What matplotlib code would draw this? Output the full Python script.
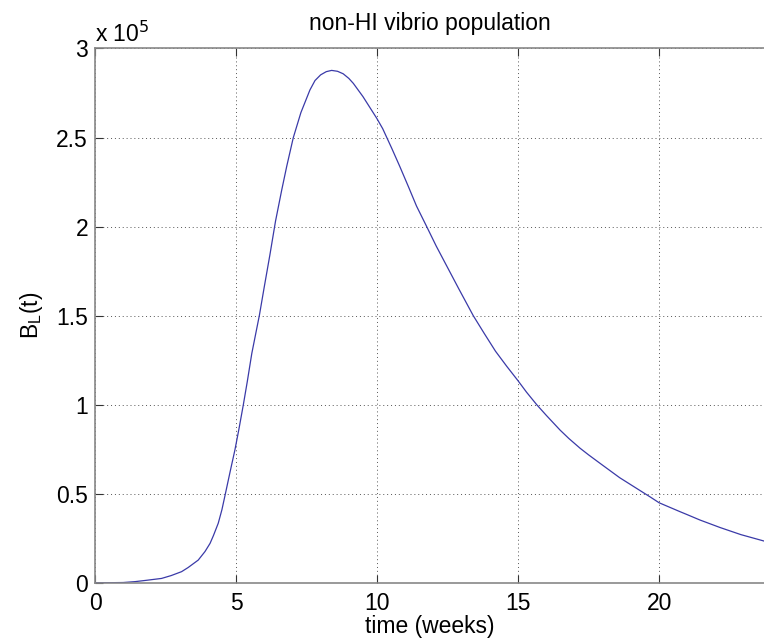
import numpy as np
import matplotlib
matplotlib.use('Agg')
import matplotlib.pyplot as plt
from matplotlib.ticker import FormatStrFormatter

# Dados (B_L em unidades de 1e5)
t_weeks = [0, 0.5, 1.0, 1.42, 1.8, 2.36, 2.7, 3.07, 3.3, 3.66, 3.9, 4.08,
           4.2, 4.37, 4.5, 4.61, 4.8, 4.96, 5.1, 5.26, 5.4, 5.56, 5.83, 6.0,
           6.2, 6.4, 6.62, 6.8, 7.03, 7.3, 7.62, 7.8, 8.0, 8.2, 8.39, 8.6,
           8.8, 9.0, 9.16, 9.5, 9.99, 10.2, 10.52, 10.8, 11.11, 11.4, 11.76,
           12.1, 12.5, 12.9, 13.41, 13.8, 14.2, 14.6, 14.99, 15.3, 15.66,
           16.0, 16.49, 16.8, 17.2, 17.5, 17.91, 18.6, 19.39, 19.7, 20.0,
           20.74, 21.0, 21.45, 22.16, 22.9, 23.72]
bl_values = [0, 0, 0.001, 0.006, 0.013, 0.024, 0.04, 0.062, 0.085, 0.127,
             0.175, 0.221, 0.265, 0.334, 0.41, 0.49, 0.63, 0.745, 0.86, 1.0,
             1.13, 1.288, 1.503, 1.66, 1.84, 2.03, 2.205, 2.34, 2.499, 2.64,
             2.767, 2.82, 2.852, 2.87, 2.877, 2.872, 2.858, 2.832, 2.804,
             2.73, 2.608, 2.55, 2.44, 2.34, 2.225, 2.115, 2.0, 1.89, 1.77,
             1.65, 1.5, 1.4, 1.3, 1.215, 1.136, 1.07, 1.0, 0.94, 0.857, 0.81,
             0.755, 0.718, 0.67, 0.59, 0.511, 0.48, 0.449, 0.399, 0.382,
             0.352, 0.31, 0.27, 0.234]

x_ticks = [0, 5, 10, 15, 20]
y_ticks = [0, 0.5, 1, 1.5, 2, 2.5, 3]

plt.rcParams['font.family'] = ['Liberation Sans', 'DejaVu Sans']
fs = 16.5

fig = plt.figure(figsize=(7.64, 6.43), dpi=100)
ax = fig.add_axes([95 / 764, 60.3 / 643, 1 - 95 / 764, 534.2 / 643])

ax.plot(t_weeks, bl_values, color='#3a3aa8', lw=0.9)

ax.set_xlim(0, 23.72)
ax.set_ylim(0, 3)
ax.set_xticks(x_ticks)
ax.set_yticks(y_ticks)
ax.yaxis.set_major_formatter(FormatStrFormatter('%g'))
ax.grid(True, linestyle=(0, (1, 3)), color='#555555', lw=0.7)

for side in ['left', 'bottom', 'top']:
    ax.spines[side].set_color('#888888')
    ax.spines[side].set_linewidth(1.2)
ax.spines['right'].set_visible(False)
ax.tick_params(direction='in', length=6, width=0.8, color='#333333',
               labelsize=fs, top=True)
ax.tick_params(axis='x', pad=7)
ax.tick_params(axis='y', pad=5)

ax.set_title('non-HI vibrio population', fontsize=fs, pad=13)
ax.set_xlabel('time (weeks)', fontsize=fs, labelpad=0)
ax.set_ylabel('$\\mathregular{B_L(t)}$', fontsize=fs, labelpad=8)
fig.text(95 / 764, 1 - 42 / 643, 'x 10$^5$', fontsize=fs, ha='left',
         va='baseline')

plt.savefig('out.png', dpi=100)
